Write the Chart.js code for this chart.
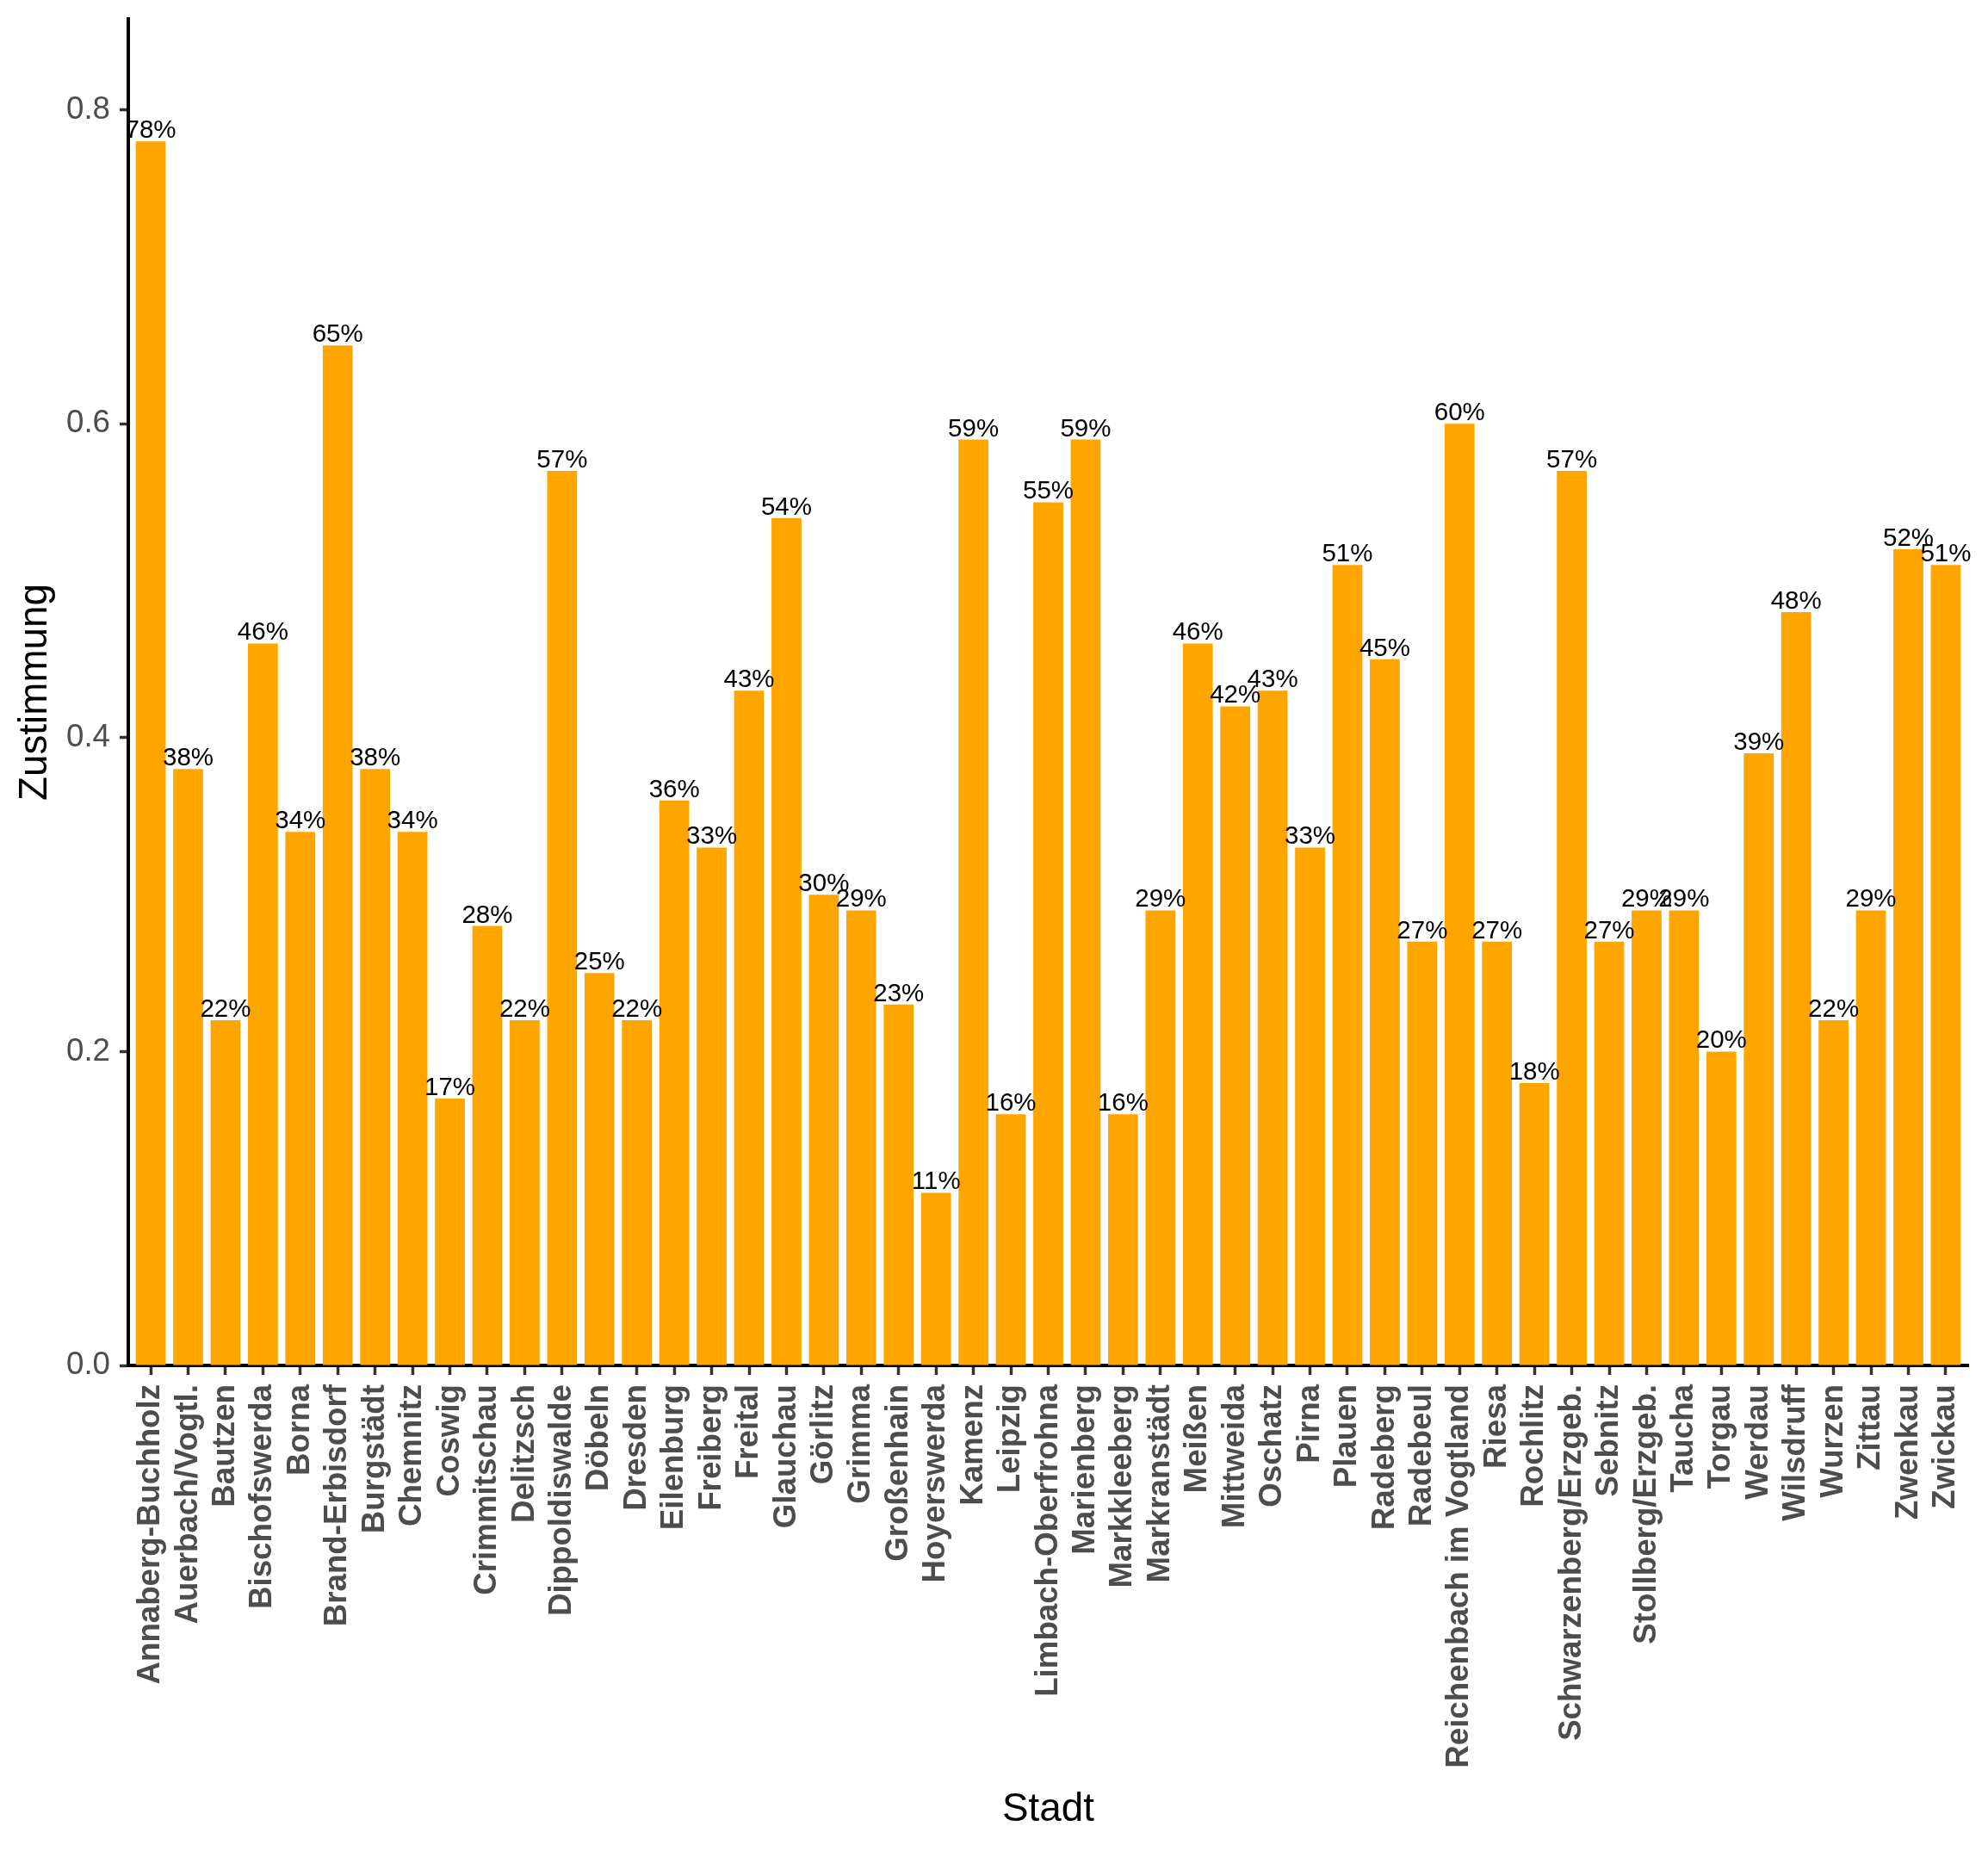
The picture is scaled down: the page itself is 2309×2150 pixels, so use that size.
<!DOCTYPE html>
<html lang="de">
<head>
<meta charset="utf-8">
<title>Zustimmung nach Stadt</title>
<script src="https://cdn.jsdelivr.net/npm/chart.js@4.4.1/dist/chart.umd.min.js"></script>
<style>
  html, body { margin: 0; padding: 0; background: #ffffff; }
  #chart { display: block; }
</style>
</head>
<body>
<canvas id="chart" width="2309" height="2150"></canvas>
<script>
"use strict";

// Städte (x-Achse, in Reihenfolge der Grafik)
const cities = [
  "Annaberg-Buchholz", "Auerbach/Vogtl.", "Bautzen", "Bischofswerda", "Borna",
  "Brand-Erbisdorf", "Burgstädt", "Chemnitz", "Coswig", "Crimmitschau",
  "Delitzsch", "Dippoldiswalde", "Döbeln", "Dresden", "Eilenburg",
  "Freiberg", "Freital", "Glauchau", "Görlitz", "Grimma",
  "Großenhain", "Hoyerswerda", "Kamenz", "Leipzig", "Limbach-Oberfrohna",
  "Marienberg", "Markkleeberg", "Markranstädt", "Meißen", "Mittweida",
  "Oschatz", "Pirna", "Plauen", "Radeberg", "Radebeul",
  "Reichenbach im Vogtland", "Riesa", "Rochlitz", "Schwarzenberg/Erzgeb.", "Sebnitz",
  "Stollberg/Erzgeb.", "Taucha", "Torgau", "Werdau", "Wilsdruff",
  "Wurzen", "Zittau", "Zwenkau", "Zwickau"
];

// Zustimmung je Stadt (Anteil)
const zustimmung = [
  0.78, 0.38, 0.22, 0.46, 0.34,
  0.65, 0.38, 0.34, 0.17, 0.28,
  0.22, 0.57, 0.25, 0.22, 0.36,
  0.33, 0.43, 0.54, 0.30, 0.29,
  0.23, 0.11, 0.59, 0.16, 0.55,
  0.59, 0.16, 0.29, 0.46, 0.42,
  0.43, 0.33, 0.51, 0.45, 0.27,
  0.60, 0.27, 0.18, 0.57, 0.27,
  0.29, 0.29, 0.20, 0.39, 0.48,
  0.22, 0.29, 0.52, 0.51
];

// y-Achse
const yTicks = [0.0, 0.2, 0.4, 0.6, 0.8];
const yMax = 0.858;

const FONT = "'Liberation Sans', Arial, Helvetica, sans-serif";
Chart.defaults.font.family = FONT;

// Prozent-Beschriftung über den Balken
const barLabels = {
  id: "barLabels",
  afterDatasetsDraw(chart) {
    const ctx = chart.ctx;
    const yScale = chart.scales.y;
    const meta = chart.getDatasetMeta(0);
    ctx.save();
    ctx.fillStyle = "#000000";
    ctx.font = "29.5px " + FONT;
    ctx.textAlign = "center";
    ctx.textBaseline = "alphabetic";
    meta.data.forEach((bar, i) => {
      const v = zustimmung[i];
      ctx.fillText(Math.round(v * 100) + "%", bar.x, yScale.getPixelForValue(v) - 4);
    });
    ctx.restore();
  }
};

new Chart(document.getElementById("chart"), {
  type: "bar",
  data: {
    datasets: [{
      label: "Zustimmung",
      data: zustimmung.map((v, i) => ({ x: i, y: v })),
      backgroundColor: "#FFA500",
      borderWidth: 0,
      barPercentage: 0.8,
      categoryPercentage: 1.0
    }]
  },
  options: {
    responsive: false,
    animation: false,
    devicePixelRatio: 1,
    layout: { padding: { left: 0, top: 22, right: 23, bottom: 0 } },
    plugins: {
      legend: { display: false },
      tooltip: { enabled: false }
    },
    scales: {
      x: {
        type: "linear",
        min: -0.6,
        max: cities.length - 1 + 0.6,
        offset: false,
        grid: {
          display: true,
          offset: false,
          drawOnChartArea: false,
          drawTicks: true,
          tickLength: 11,
          tickColor: "#333333",
          tickWidth: 3.5
        },
        border: { display: true, color: "#000000", width: 4 },
        afterBuildTicks: (axis) => {
          axis.ticks = cities.map((c, i) => ({ value: i }));
        },
        afterFit: (scale) => {
          scale.height = 564;
          scale.paddingLeft = 0;
          scale.paddingRight = 0;
        },
        ticks: {
          autoSkip: false,
          minRotation: 90,
          maxRotation: 90,
          padding: 11,
          color: "#4D4D4D",
          font: { size: 36.7, weight: "bold" },
          callback: (v) => cities[v]
        },
        title: {
          display: true,
          text: "Stadt",
          color: "#000000",
          font: { size: 45.8 },
          padding: { top: 0, bottom: 20 }
        }
      },
      y: {
        min: 0,
        max: yMax,
        grid: {
          display: true,
          drawOnChartArea: false,
          drawTicks: true,
          tickLength: 10,
          tickColor: "#333333",
          tickWidth: 3.5
        },
        border: { display: true, color: "#000000", width: 4 },
        afterBuildTicks: (axis) => {
          axis.ticks = yTicks.map((v) => ({ value: v }));
        },
        afterFit: (scale) => {
          scale.width = 149;
          scale.paddingTop = 0;
          scale.paddingBottom = 0;
        },
        ticks: {
          padding: 11,
          color: "#4D4D4D",
          font: { size: 36.7 },
          callback: (v) => v.toFixed(1)
        },
        title: {
          display: true,
          text: "Zustimmung",
          color: "#000000",
          font: { size: 45.8 },
          padding: { top: 14, bottom: 0 }
        }
      }
    }
  },
  plugins: [barLabels]
});
</script>
</body>
</html>
